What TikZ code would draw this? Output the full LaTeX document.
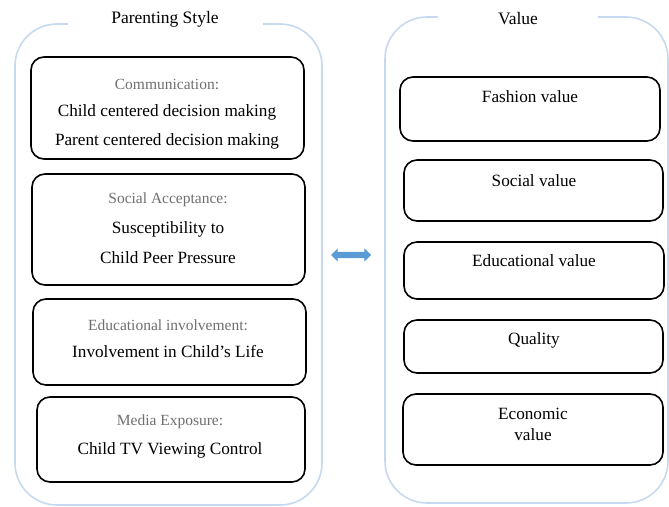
\documentclass[tikz,border=0pt]{standalone}
\usepackage{fontspec}
\setmainfont{Liberation Serif}
\usetikzlibrary{shapes.arrows}
\definecolor{frameblue}{HTML}{C6D9F0}
\definecolor{arrowblue}{HTML}{5B9BD5}
\definecolor{labelgray}{HTML}{6E6E6E}
\tikzset{
  x=1pt,y=-1pt,
  frame/.style={draw=frameblue,line width=1.6pt,rounded corners=42pt},
  box/.style={draw=black,line width=1.6pt,rounded corners=13pt},
  title/.style={fill=white,inner sep=0pt,font=\fontsize{17.5}{20}\selectfont},
  lab/.style={text=labelgray,inner sep=0pt,font=\fontsize{15.5}{18}\selectfont},
  txt/.style={text=black,inner sep=0pt,font=\fontsize{17.2}{20}\selectfont},
}
\begin{document}
\begin{tikzpicture}
\useasboundingbox (0,0) rectangle (669,506);
% containers
\draw[frame] (15,24) rectangle (322,505);
\draw[frame] (385,17) rectangle (668,503);
\node[title,minimum width=195pt,minimum height=18pt] (t1) at (165,19) {Parenting Style};
\node[title,minimum width=160pt,minimum height=18pt] (t2) at (518,19) {Value};
% left boxes
\draw[box] (31,57) rectangle (304,159);
\node[lab] (l1) at (167,84) {Communication:};
\node[txt] (l1a) at (167,112) {Child centered decision making};
\node[txt] (l1b) at (167,141) {Parent centered decision making};
\draw[box] (32,174) rectangle (305,285);
\node[lab] (l2) at (168,200) {Social Acceptance:};
\node[txt] (l2a) at (168,229) {Susceptibility to};
\node[txt] (l2b) at (168,258) {Child Peer Pressure};
\draw[box] (33,299) rectangle (306,385);
\node[lab] (l3) at (168,325) {Educational involvement:};
\node[txt] (l3a) at (168,352) {Involvement in Child's Life};
\draw[box] (37,397) rectangle (305,482);
\node[lab] (l4) at (170,422) {Media Exposure:};
\node[txt] (l4a) at (170,450) {Child TV Viewing Control};
% right boxes
\draw[box] (400,77) rectangle (660,141);
\node[txt] (r1) at (530,97) {Fashion value};
\draw[box] (404,160) rectangle (663,221);
\node[txt] (r2) at (534,181) {Social value};
\draw[box] (404,242) rectangle (664,299);
\node[txt] (r3) at (534,261) {Educational value};
\draw[box] (404,320) rectangle (663,373);
\node[txt] (r4) at (534,340) {Quality};
\draw[box] (403,394) rectangle (663,465);
\node[txt] (r5) at (533,414) {Economic};
\node[txt] (r5b) at (533,435) {value};
% arrow
\node[double arrow,fill=arrowblue,draw=none,inner sep=3pt,minimum height=40pt,
      double arrow head extend=3.5pt] (arr) at (351,255) {};
\end{tikzpicture}
\end{document}
